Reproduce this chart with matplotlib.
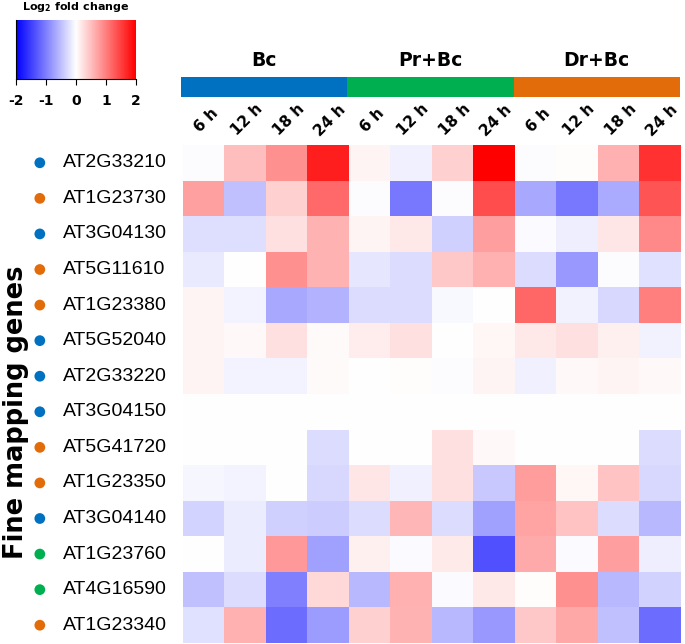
import numpy as np
import matplotlib.pyplot as plt

groups = ["Bc", "Pr+Bc", "Dr+Bc"]
group_colors = ["#0070C0", "#00B050", "#E36C0A"]
times = ["6 h", "12 h", "18 h", "24 h"]

genes = ["AT2G33210", "AT1G23730", "AT3G04130", "AT5G11610", "AT1G23380",
         "AT5G52040", "AT2G33220", "AT3G04150", "AT5G41720", "AT1G23350",
         "AT3G04140", "AT1G23760", "AT4G16590", "AT1G23340"]
gene_group = ["Bc", "Dr+Bc", "Bc", "Dr+Bc", "Dr+Bc", "Bc", "Bc",
              "Bc", "Dr+Bc", "Dr+Bc", "Bc", "Pr+Bc", "Pr+Bc", "Dr+Bc"]

# log2 fold change, columns: Bc 6-24 h, Pr+Bc 6-24 h, Dr+Bc 6-24 h
lfc = np.array([
    [-0.02, 0.50, 0.87, 1.75, 0.08, -0.12, 0.37, 2.00, -0.03, 0.02, 0.62, 1.60],
    [0.74, -0.50, 0.37, 1.17, -0.02, -1.06, -0.03, 1.40, -0.68, -1.06, -0.67, 1.33],
    [-0.26, -0.26, 0.24, 0.60, 0.08, 0.18, -0.37, 0.75, -0.04, -0.14, 0.20, 0.93],
    [-0.16, 0.00, 0.87, 0.60, -0.20, -0.27, 0.43, 0.62, -0.27, -0.80, -0.03, -0.24],
    [0.08, -0.08, -0.68, -0.60, -0.27, -0.27, -0.05, 0.00, 1.20, -0.10, -0.30, 1.00],
    [0.08, 0.05, 0.24, 0.04, 0.15, 0.24, 0.00, 0.07, 0.18, 0.24, 0.12, -0.10],
    [0.08, -0.08, -0.08, 0.04, 0.00, 0.03, -0.03, 0.08, -0.12, 0.05, 0.08, 0.05],
    [0.00, 0.00, 0.00, 0.00, 0.00, 0.00, 0.00, 0.00, 0.00, 0.00, 0.00, 0.00],
    [0.00, 0.00, 0.00, -0.27, 0.00, 0.00, 0.24, 0.05, 0.00, 0.00, 0.00, -0.27],
    [-0.07, -0.08, 0.00, -0.30, 0.20, -0.12, 0.24, -0.43, 0.78, 0.07, 0.46, -0.30],
    [-0.34, -0.15, -0.37, -0.40, -0.27, 0.57, -0.27, -0.75, 0.71, 0.46, -0.27, -0.55],
    [0.00, -0.15, 0.80, -0.75, 0.12, -0.04, 0.16, -1.37, 0.67, -0.04, 0.75, -0.13],
    [-0.50, -0.27, -1.00, 0.30, -0.55, 0.62, -0.04, 0.18, 0.03, 0.87, -0.55, -0.35],
    [-0.24, 0.62, -1.15, -0.78, 0.37, 0.60, -0.55, -0.80, 0.43, 0.68, -0.50, -1.15],
])

W, H = 685, 644
bold_font = "DejaVu Sans"


def box(x0, y0, x1, y1):
    # pixel box -> figure fraction
    return [x0 / W, 1 - y1 / H, (x1 - x0) / W, (y1 - y0) / H]


fig = plt.figure(figsize=(W / 100, H / 100), dpi=100)

# heatmap
ax = fig.add_axes(box(183, 145, 681, 643))
ax.imshow(lfc, cmap="bwr", vmin=-2, vmax=2, aspect="auto", interpolation="nearest")

color_of = dict(zip(groups, group_colors))
rows = np.arange(len(genes))
ax.scatter(np.full(len(genes), -3.95), rows, s=60, c=[color_of[g] for g in gene_group],
           clip_on=False, linewidths=0)
for i, g in enumerate(genes):
    ax.text(-3.39, i, g, ha="left", va="center", fontsize=14, family="Liberation Sans")

cols = [t for g in groups for t in times]
for j, t in enumerate(cols):
    ax.text(j + 0.05, -1.2, t, rotation=45, ha="center", va="center",
            fontsize=11, fontweight="bold", family=bold_font)
ax.set_xlim(-0.5, len(cols) - 0.5)
ax.set_ylim(len(genes) - 0.5, -0.5)
ax.axis("off")

fig.text(16 / W, 1 - 412 / H, "Fine mapping genes", rotation=90, ha="center", va="center",
         fontsize=18.5, fontweight="bold", family=bold_font)

# group bar
gax = fig.add_axes(box(181, 77, 680, 97))
for k, (g, c) in enumerate(zip(groups, group_colors)):
    gax.barh(0, len(times), left=k * len(times), height=1, color=c)
    gax.text(k * len(times) + len(times) / 2, 1.3, g, ha="center", va="center",
             fontsize=13.5, fontweight="bold", family=bold_font)
gax.set_xlim(0, len(cols))
gax.set_ylim(-0.5, 0.5)
gax.axis("off")

# colour scale
cax = fig.add_axes(box(16, 20, 136, 79))
grad = np.linspace(-2, 2, 256)[None, :]
cax.imshow(grad, cmap="bwr", vmin=-2, vmax=2, aspect="auto", extent=[-2, 2, 0, 1])
cax.set_xlim(-2, 2)
cax.set_ylim(0, 1)
cax.spines["top"].set_visible(False)
cax.spines["right"].set_visible(False)
cax.set_yticks([])
ticks = [-2, -1, 0, 1, 2]
cax.set_xticks(ticks)
cax.set_xticklabels([str(t) for t in ticks], fontweight="bold", fontsize=10, family=bold_font)
cax.tick_params(axis="x", length=4, pad=7)
cax.set_title(r"Log$_\mathbf{2}$ fold change", fontsize=8, fontweight="bold",
              family=bold_font, pad=7)

fig.savefig("out.png", dpi=100)
